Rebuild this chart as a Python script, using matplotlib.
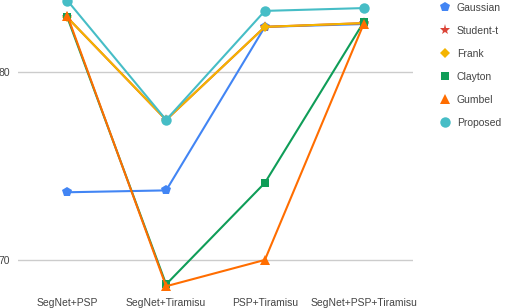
import matplotlib
matplotlib.use("Agg")
import matplotlib.pyplot as plt
from matplotlib.lines import Line2D

categories = ["SegNet+PSP", "SegNet+Tiramisu", "PSP+Tiramisu", "SegNet+PSP+Tiramisu"]
gaussian = [73.6, 73.7, 82.4, 82.55]
student_t = [82.9, 77.45, 82.4, 82.6]
frank = [82.9, 77.45, 82.4, 82.6]
clayton = [82.9, 68.7, 74.1, 82.65]
gumbel = [83.0, 68.6, 70.0, 82.55]
proposed = [83.8, 77.45, 83.25, 83.4]
yticks = [70, 80]

series = [
    ("Gaussian", gaussian, "#4285F4", "p", 7),
    ("Student-t", student_t, "#DB4437", "*", 8),
    ("Frank", frank, "#F4B400", "D", 5.5),
    ("Clayton", clayton, "#0F9D58", "s", 5.5),
    ("Gumbel", gumbel, "#FF6D00", "^", 6.5),
    ("Proposed", proposed, "#46BDC6", "o", 7.5),
]

plt.rcParams['font.family'] = ['Liberation Sans', 'DejaVu Sans']

fig = plt.figure(figsize=(5.06, 3.08), dpi=100)
ax = fig.add_axes([18 / 506, 1 - 290 / 308, 395 / 506, 290 / 308])

x = list(range(len(categories)))
handles = []
for name, vals, col, mk, ms in series:
    ax.plot(x, vals, color=col, lw=1.5, marker=mk, markersize=ms,
            markeredgewidth=0, clip_on=False, zorder=3)
    handles.append(Line2D([], [], color=col, marker=mk, linestyle="None",
                          markersize=ms, markeredgewidth=0, label=name))

ax.set_xlim(-0.5, 3.5)
ax.set_ylim(68.4, 83.83)
ax.set_yticks(yticks)
ax.set_yticklabels([str(t) for t in yticks])
ax.yaxis.grid(True, color="#cccccc", lw=1)
ax.set_xticks(x)
ax.set_xticklabels(categories)
for s in ax.spines.values():
    s.set_visible(False)
ax.tick_params(axis="both", length=0, labelsize=7.5, colors="#444444")
ax.tick_params(axis="y", pad=6)
ax.tick_params(axis="x", pad=6)

fig.legend(handles=handles, loc="upper left", bbox_to_anchor=(435 / 506, 1.008),
           frameon=False, fontsize=7.5, labelspacing=1.25, handlelength=1.0,
           handletextpad=0.6, borderpad=0.0, labelcolor="#444444")

fig.savefig("out.png", dpi=100)
